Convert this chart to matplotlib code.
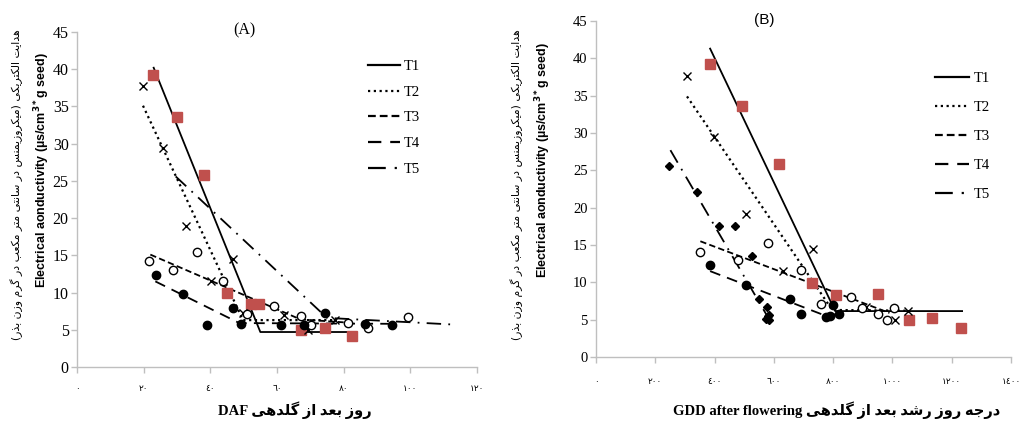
import matplotlib
matplotlib.use("Agg")
import matplotlib.pyplot as plt
from matplotlib.lines import Line2D

# ---------------- Persian shaping helpers ----------------
FORMS = {
    'ا': ('\uFE8D', '\uFE8E', None, None),
    'آ': ('\uFE81', '\uFE82', None, None),
    'ب': ('\uFE8F', '\uFE90', '\uFE91', '\uFE92'),
    'پ': ('\uFB56', '\uFB57', '\uFB58', '\uFB59'),
    'ت': ('\uFE95', '\uFE96', '\uFE97', '\uFE98'),
    'ث': ('\uFE99', '\uFE9A', '\uFE9B', '\uFE9C'),
    'ج': ('\uFE9D', '\uFE9E', '\uFE9F', '\uFEA0'),
    'چ': ('\uFB7A', '\uFB7B', '\uFB7C', '\uFB7D'),
    'ح': ('\uFEA1', '\uFEA2', '\uFEA3', '\uFEA4'),
    'خ': ('\uFEA5', '\uFEA6', '\uFEA7', '\uFEA8'),
    'د': ('\uFEA9', '\uFEAA', None, None),
    'ذ': ('\uFEAB', '\uFEAC', None, None),
    'ر': ('\uFEAD', '\uFEAE', None, None),
    'ز': ('\uFEAF', '\uFEB0', None, None),
    'ژ': ('\uFB8A', '\uFB8B', None, None),
    'س': ('\uFEB1', '\uFEB2', '\uFEB3', '\uFEB4'),
    'ش': ('\uFEB5', '\uFEB6', '\uFEB7', '\uFEB8'),
    'ص': ('\uFEB9', '\uFEBA', '\uFEBB', '\uFEBC'),
    'ض': ('\uFEBD', '\uFEBE', '\uFEBF', '\uFEC0'),
    'ط': ('\uFEC1', '\uFEC2', '\uFEC3', '\uFEC4'),
    'ظ': ('\uFEC5', '\uFEC6', '\uFEC7', '\uFEC8'),
    'ع': ('\uFEC9', '\uFECA', '\uFECB', '\uFECC'),
    'غ': ('\uFECD', '\uFECE', '\uFECF', '\uFED0'),
    'ف': ('\uFED1', '\uFED2', '\uFED3', '\uFED4'),
    'ق': ('\uFED5', '\uFED6', '\uFED7', '\uFED8'),
    'ک': ('\uFB8E', '\uFB8F', '\uFB90', '\uFB91'),
    'گ': ('\uFB92', '\uFB93', '\uFB94', '\uFB95'),
    'ل': ('\uFEDD', '\uFEDE', '\uFEDF', '\uFEE0'),
    'م': ('\uFEE1', '\uFEE2', '\uFEE3', '\uFEE4'),
    'ن': ('\uFEE5', '\uFEE6', '\uFEE7', '\uFEE8'),
    'ه': ('\uFEE9', '\uFEEA', '\uFEEB', '\uFEEC'),
    'و': ('\uFEED', '\uFEEE', None, None),
    'ی': ('\uFBFC', '\uFBFD', '\uFBFE', '\uFBFF'),
}


def _dual(c):
    return c in FORMS and FORMS[c][2] is not None


def _joins(c):
    return c in FORMS


def fa(text):
    """Shape Persian text and return it in visual (left-to-right) order."""
    out = []
    n = len(text)
    for i, c in enumerate(text):
        if c not in FORMS:
            out.append(c)
            continue
        prev = text[i - 1] if i > 0 else ''
        nxt = text[i + 1] if i + 1 < n else ''
        jp = _dual(prev)
        jn = _dual(c) and _joins(nxt)
        iso, fin, ini, med = FORMS[c]
        if jp and jn:
            out.append(med)
        elif jp:
            out.append(fin)
        elif jn:
            out.append(ini)
        else:
            out.append(iso)
    vis = ''.join(reversed(out))
    return vis.translate(str.maketrans({'(': ')', ')': '('}))


# ---------------- data ----------------
# Panel A: days after flowering (DAF)
a_t1_x = [22.9, 29.9, 38.0, 44.9, 52.2, 54.7, 67.3, 74.3, 82.4]
a_t1_y = [39.2, 33.6, 25.8, 10.0, 8.4, 8.5, 5.0, 5.3, 4.2]
a_t2_x = [19.8, 25.9, 32.8, 40.1, 46.9, 49.7, 62.0, 69.3, 77.3]
a_t2_y = [37.7, 29.4, 19.0, 11.6, 14.5, 7.2, 7.0, 5.0, 6.3]
a_t3_x = [21.6, 28.8, 36.0, 43.9, 51.0, 59.2, 67.3, 70.3, 81.3, 87.4, 99.4]
a_t3_y = [14.2, 13.0, 15.4, 11.6, 7.1, 8.2, 6.8, 5.6, 5.9, 5.3, 6.7]
a_t4_x = [23.6, 31.9, 39.0, 46.9, 49.1, 61.2, 68.0, 74.3, 86.4, 94.4]
a_t4_y = [12.3, 9.8, 5.6, 7.9, 5.8, 5.6, 5.7, 7.2, 5.8, 5.7]

a_fit_t1_x = [23.0, 55.0, 82.4]
a_fit_t1_y = [40.2, 4.7, 4.7]
a_fit_t2_x = [19.8, 49.8, 77.3]
a_fit_t2_y = [35.1, 6.3, 6.3]
a_fit_t3_x = [22.0, 67.0, 80.0]
a_fit_t3_y = [15.1, 6.4, 6.0]
a_fit_t4_x = [23.5, 48.7, 95.0]
a_fit_t4_y = [11.5, 5.9, 5.8]
a_fit_t5_x = [29.6, 75.0, 113.0]
a_fit_t5_y = [25.6, 6.6, 5.7]

# Panel B: growing degree days after flowering (GDD)
b_t1_x = [385, 493, 616, 730, 809, 952, 1057, 1134, 1232]
b_t1_y = [39.3, 33.6, 25.8, 9.9, 8.3, 8.4, 4.9, 5.2, 3.9]
b_t2_x = [307, 397, 507, 630, 733, 910, 1010, 1053]
b_t2_y = [37.7, 29.4, 19.1, 11.5, 14.5, 6.7, 4.9, 6.1]
b_t3_x = [352, 478, 579, 691, 758, 859, 896, 952, 983, 1005]
b_t3_y = [14.1, 13.0, 15.3, 11.6, 7.1, 8.1, 6.6, 5.8, 5.0, 6.5]
b_t4_x = [385, 507, 655, 692, 775, 790, 800, 820]
b_t4_y = [12.3, 9.7, 7.8, 5.7, 5.4, 5.5, 7.0, 5.7]
b_t5_x = [246, 340, 416, 470, 526, 550, 576, 580, 585, 575, 582]
b_t5_y = [25.6, 22.1, 17.6, 17.6, 13.5, 7.8, 6.7, 5.5, 5.6, 5.1, 5.0]

b_fit_t1_x = [385, 807, 1235]
b_fit_t1_y = [41.3, 6.15, 6.15]
b_fit_t2_x = [307, 797, 1050]
b_fit_t2_y = [34.9, 6.3, 6.2]
b_fit_t3_x = [352, 990]
b_fit_t3_y = [15.5, 5.9]
b_fit_t4_x = [385, 763, 820]
b_fit_t4_y = [11.5, 5.7, 5.7]
b_fit_t5_x = [251, 579]
b_fit_t5_y = [27.7, 5.4]

series_labels = ['T1', 'T2', 'T3', 'T4', 'T5']
a_xticks = [0, 20, 40, 60, 80, 100, 120]
b_xticks = [0, 200, 400, 600, 800, 1000, 1200, 1400]
yticks = [0, 5, 10, 15, 20, 25, 30, 35, 40, 45]

# ---------------- style ----------------
RED = '#c0504d'
LW = 1.3
styles = {
    'T1': dict(linestyle='-'),
    'T2': dict(linestyle=(0, (1, 1.6))),
    'T3': dict(linestyle=(0, (3.5, 1.8))),
    'T4': dict(linestyle=(0, (6, 4))),
    'T5': dict(linestyle=(0, (8, 4, 1, 4))),
}

AR = '٠١٢٣٤٥٦٧٨٩'


def ar_digits(v):
    return ''.join(AR[int(d)] for d in str(v))


W, H = 1021, 421
fig = plt.figure(figsize=(W / 100, H / 100), dpi=100)

serif = ['Liberation Serif', 'DejaVu Sans']

axA = fig.add_axes([77 / W, 1 - 367 / H, 400 / W, 335 / H])
axB = fig.add_axes([596 / W, 1 - 357 / H, 415 / W, 336 / H])


def style_axes(ax, xticks, xlim, ysize, xpad):
    ax.set_xlim(*xlim)
    ax.set_ylim(0, 45)
    for s in ['top', 'right']:
        ax.spines[s].set_visible(False)
    for s in ['left', 'bottom']:
        ax.spines[s].set_color('#bfbfbf')
        ax.spines[s].set_linewidth(1.0)
    ax.set_yticks(yticks)
    ax.set_yticklabels([str(v) for v in yticks], fontfamily=serif, fontsize=ysize)
    ax.set_xticks(xticks)
    ax.set_xticklabels([ar_digits(v) for v in xticks], fontfamily=serif, fontsize=6.5)
    ax.tick_params(axis='both', direction='out', color='#bfbfbf', length=4, width=1.0)
    ax.tick_params(axis='x', pad=xpad)
    ax.tick_params(axis='y', pad=2)


style_axes(axA, a_xticks, (0, 120), 11.5, 9)
style_axes(axB, b_xticks, (0, 1400), 10.5, 11)

# Panel A points
axA.plot(a_t1_x, a_t1_y, 's', color=RED, ms=6.5, mec=RED, zorder=3)
axA.plot(a_t2_x, a_t2_y, 'x', color='black', ms=5.5, mew=1.0, zorder=3)
axA.plot(a_t3_x, a_t3_y, 'o', mfc='white', mec='black', ms=6, mew=1.0, zorder=3)
axA.plot(a_t4_x, a_t4_y, 'o', color='black', ms=6, zorder=3)
# Panel A fitted lines
for lab, xs, ys in zip(series_labels,
                       [a_fit_t1_x, a_fit_t2_x, a_fit_t3_x, a_fit_t4_x, a_fit_t5_x],
                       [a_fit_t1_y, a_fit_t2_y, a_fit_t3_y, a_fit_t4_y, a_fit_t5_y]):
    axA.plot(xs, ys, color='black', lw=LW if lab != 'T2' else 1.6, zorder=2, **styles[lab])

# Panel B points
axB.plot(b_t1_x, b_t1_y, 's', color=RED, ms=6.5, mec=RED, zorder=3)
axB.plot(b_t2_x, b_t2_y, 'x', color='black', ms=5.5, mew=1.0, zorder=3)
axB.plot(b_t3_x, b_t3_y, 'o', mfc='white', mec='black', ms=6, mew=1.0, zorder=3)
axB.plot(b_t4_x, b_t4_y, 'o', color='black', ms=6, zorder=3)
axB.plot(b_t5_x, b_t5_y, 'D', color='black', ms=4.5, zorder=3)
for lab, xs, ys in zip(series_labels,
                       [b_fit_t1_x, b_fit_t2_x, b_fit_t3_x, b_fit_t4_x, b_fit_t5_x],
                       [b_fit_t1_y, b_fit_t2_y, b_fit_t3_y, b_fit_t4_y, b_fit_t5_y]):
    axB.plot(xs, ys, color='black', lw=LW if lab != 'T2' else 1.6, zorder=2, **styles[lab])

# legends
handles = [Line2D([], [], color='black', lw=(1.6 if l == 'T2' else 1.6), **styles[l]) for l in series_labels]
fs_leg = 10.5
fs_px = fs_leg * 100 / 72
legA = fig.legend(handles, series_labels, loc='upper left', frameon=False,
                  bbox_to_anchor=((368 - 0.4 * fs_px) / W, 1 - (60 - 0.4 * fs_px) / H),
                  bbox_transform=fig.transFigure, borderaxespad=0,
                  prop={'family': 'Liberation Serif', 'size': fs_leg},
                  handlelength=32 / fs_px, handletextpad=0.25, labelspacing=(27 - fs_px) / fs_px)
legB = fig.legend(handles, series_labels, loc='upper left', frameon=False,
                  bbox_to_anchor=((935 - 0.4 * fs_px) / W, 1 - (72 - 0.4 * fs_px) / H),
                  bbox_transform=fig.transFigure, borderaxespad=0,
                  prop={'family': 'Liberation Serif', 'size': fs_leg},
                  handlelength=34 / fs_px, handletextpad=0.3, labelspacing=(30.3 - fs_px) / fs_px)

# titles
fig.text(244 / W, 1 - 30 / H, '(A)', ha='center', va='center', fontfamily='Liberation Serif', fontsize=11.5)
fig.text(764 / W, 1 - 20 / H, '(B)', ha='center', va='center', fontfamily='Liberation Sans', fontsize=11)

# y labels
fa_ylabel = fa('هدایت الکتریکی (میکروزیمنس در سانتی متر مکعب در گرم وزن بذر)')
en_ylabel = r'Electrical aonductivity (µs/cm$^{\mathbf{3*}}$g seed)'
for x0 in (17, 517):
    fig.text(x0 / W, 1 - 185 / H, fa_ylabel, rotation=90, ha='center', va='center',
             fontfamily='DejaVu Sans', fontsize=7.8)
for x0, yc in ((42, 170), (543, 160)):
    fig.text(x0 / W, 1 - yc / H, en_ylabel, rotation=90, ha='center', va='center',
             fontfamily='Liberation Sans', fontweight='bold', fontsize=9)

# x labels
fig.text(295 / W, 1 - 410 / H, 'DAF ' + fa('روز بعد از گلدهی'), ha='center', va='center',
         fontfamily=serif, fontweight='bold', fontsize=10.5)
fig.text(837 / W, 1 - 410 / H, 'GDD after flowering ' + fa('درجه روز رشد بعد از گلدهی'),
         ha='center', va='center', fontfamily=serif, fontweight='bold', fontsize=10.5)

fig.savefig('out.png', dpi=100)
